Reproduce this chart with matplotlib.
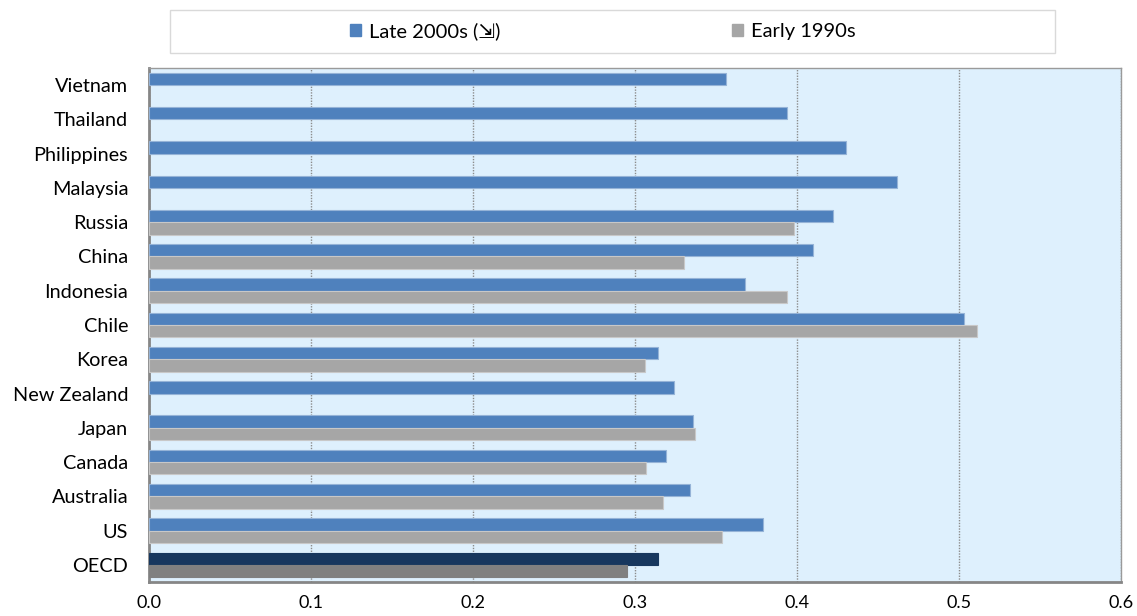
import matplotlib.pyplot as plt
import matplotlib.patches as mpatches
import numpy as np

plt.rcParams['font.family'] = ['Lato', 'DejaVu Sans']

# datos
paises = ['Vietnam', 'Thailand', 'Philippines', 'Malaysia', 'Russia', 'China',
          'Indonesia', 'Chile', 'Korea', 'New Zealand', 'Japan', 'Canada',
          'Australia', 'US', 'OECD']
late_2000s = [0.356, 0.394, 0.430, 0.462, 0.422, 0.410, 0.368, 0.503, 0.314,
              0.324, 0.336, 0.319, 0.334, 0.379, 0.314]
early_1990s = [np.nan, np.nan, np.nan, np.nan, 0.398, 0.330, 0.394, 0.511, 0.306,
               np.nan, 0.337, 0.307, 0.317, 0.354, 0.295]
ticks_x = [0.0, 0.1, 0.2, 0.3, 0.4, 0.5, 0.6]

azul = '#4F81BD'
gris = '#A6A6A6'
azul_oecd = '#17375E'
gris_oecd = '#808080'

fig = plt.figure(figsize=(11.37, 6.16), dpi=100)
ax = fig.add_axes([149 / 1137, 34 / 616, 972 / 1137, 514 / 616])
ax.set_facecolor('#DEF0FD')

y = np.arange(len(paises))
alto = 0.36

col_azul = [azul_oecd if p == 'OECD' else azul for p in paises]
col_gris = [gris_oecd if p == 'OECD' else gris for p in paises]
borde_azul = ['#17375E' if p == 'OECD' else '#95B3D7' for p in paises]
borde_gris = ['#808080' if p == 'OECD' else '#C8C8C8' for p in paises]

ax.barh(y - alto / 2, late_2000s, height=alto, color=col_azul,
        edgecolor=borde_azul, linewidth=0.8, zorder=3)
ax.barh(y + alto / 2, early_1990s, height=alto, color=col_gris,
        edgecolor=borde_gris, linewidth=0.8, zorder=3)

ax.set_ylim(len(paises) - 0.5, -0.5)
ax.set_xlim(0, 0.6)
ax.set_yticks(y)
ax.set_yticklabels(paises, fontsize=14.3)
ax.set_xticks(ticks_x)
ax.set_xticklabels([f'{t:.1f}' for t in ticks_x], fontsize=13)
ax.tick_params(axis='y', length=0, pad=15)
ax.tick_params(axis='x', length=0, pad=9)

# rejilla punteada
ax.xaxis.grid(True, linestyle=(0, (1, 1)), color='#8C8C8C', linewidth=1, zorder=1)
ax.set_axisbelow(True)

for lado in ['left', 'bottom']:
    ax.spines[lado].set_color('#868686')
    ax.spines[lado].set_linewidth(2)
for lado in ['top', 'right']:
    ax.spines[lado].set_color('#9A9A9A')
    ax.spines[lado].set_linewidth(1)

# leyenda con caja
caja = mpatches.Rectangle((170 / 1137, 1 - 53 / 616), 885 / 1137, 43 / 616,
                          transform=fig.transFigure, facecolor='white',
                          edgecolor='#D9D9D9', linewidth=1)
fig.patches.append(caja)

h1 = mpatches.Patch(color=azul)
h2 = mpatches.Patch(color=gris)
fig.legend([h1, h2], ['Late 2000s (\u21F2)', 'Early 1990s'],
           loc='center', bbox_to_anchor=(603 / 1137, 1 - 31.5 / 616),
           ncol=2, frameon=False, fontsize=14.5, handlelength=0.55,
           handleheight=0.55, handletextpad=0.4, columnspacing=11.5)

plt.savefig('out.png', dpi=100)
